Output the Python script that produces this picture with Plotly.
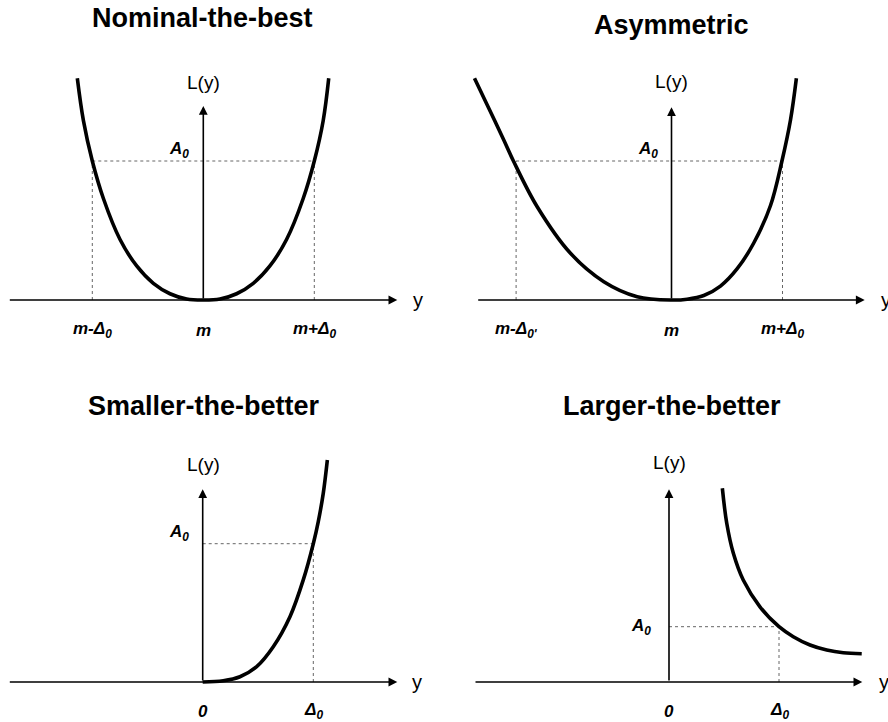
import plotly.graph_objects as go

W, H = 888, 722

# ---------------- data (x in units of Δ0, L(y) in units of A0) ----------------
titles = ["Nominal-the-best", "Asymmetric", "Smaller-the-better", "Larger-the-better"]

nom_x = [-1.135, -1.08, -1.0, -0.90, -0.75, -0.60, -0.45, -0.30, -0.15, 0.0,
         0.15, 0.30, 0.45, 0.60, 0.75, 0.90, 1.0, 1.08, 1.13]
nom_y = [1.595, 1.29, 1.0, 0.73, 0.435, 0.245, 0.120, 0.045, 0.007, 0.0,
         0.007, 0.045, 0.120, 0.245, 0.435, 0.73, 1.0, 1.29, 1.595]

asym_x = [-1.775, -1.660, -1.511, -1.424, -1.210, -0.910, -0.610, -0.309, 0.0,
          0.141, 0.291, 0.441, 0.592, 0.741, 0.892, 0.995, 1.072, 1.125]
asym_y = [1.595, 1.403, 1.151, 1.0, 0.671, 0.336, 0.132, 0.024, 0.0,
          0.006, 0.032, 0.100, 0.225, 0.41, 0.68, 1.0, 1.295, 1.595]

smal_x = [0.0, 0.186, 0.337, 0.488, 0.638, 0.789, 0.910, 1.0, 1.045, 1.090, 1.127]
smal_y = [0.0, 0.009, 0.038, 0.111, 0.255, 0.472, 0.74, 1.0, 1.16, 1.364, 1.605]

larg_x = [0.485, 0.525, 0.585, 0.675, 0.827, 1.0, 1.130, 1.282, 1.434, 1.585, 1.752]
larg_y = [3.503, 2.870, 2.327, 1.844, 1.36, 1.0, 0.819, 0.669, 0.579, 0.530, 0.512]

nom_tick_vals = [-1.0, 0.0, 1.0]
nom_tick_text = ["m-Δ<sub>0</sub>", "m", "m+Δ<sub>0</sub>"]
asym_tick_vals = [-1.40, 0.0, 1.0]
asym_tick_text = ["m-Δ<sub>0'</sub>", "m", "m+Δ<sub>0</sub>"]
one_tick_vals = [0.0, 1.0]
one_tick_text = ["0", "Δ<sub>0</sub>"]

# dotted guide lines (A0 level and Δ positions)
nom_guides = dict(h=(-1.0, 1.0), v=[-1.0, 1.0])
asym_guides = dict(h=(-1.40, 1.0), v=[-1.40, 1.0])
smal_guides = dict(h=(0.0, 1.0), v=[1.0])
larg_guides = dict(h=(0.0, 1.0), v=[1.0])

# ---------------- panel geometry (pixels) ----------------
panels = [
    dict(ox=203.3, oy=300, ux=111, uy=139, q=(0, 444, 0, 361),
         xa=(8.3, 397.3), ytip=106, ylab=(418, 300), Llab=(203.3, 82.7),
         Alab=(179, 150), tick_py=330, title=(202.3, 18.3),
         cx=nom_x, cy=nom_y, tv=nom_tick_vals, tt=nom_tick_text, g=nom_guides),
    dict(ox=671.5, oy=300, ux=111, uy=139, q=(444, 888, 0, 361),
         xa=(476.7, 864.7), ytip=107.3, ylab=(886, 300), Llab=(671.7, 81.7),
         Alab=(648, 150), tick_py=330, title=(671.7, 25),
         cx=asym_x, cy=asym_y, tv=asym_tick_vals, tt=asym_tick_text, g=asym_guides),
    dict(ox=202.7, oy=682, ux=110.6, uy=138.3, q=(0, 444, 361, 722),
         xa=(8.3, 397.3), ytip=489.3, ylab=(417, 682), Llab=(203, 464.3),
         Alab=(179, 532.7), tick_py=711, title=(204, 406),
         cx=smal_x, cy=smal_y, tv=one_tick_vals, tt=one_tick_text, g=smal_guides),
    dict(ox=669, oy=682, ux=110, uy=55.3, q=(444, 888, 361, 722),
         xa=(474, 862.3), ytip=489.3, ylab=(884, 682), Llab=(669, 462.7),
         Alab=(640.7, 626.7), tick_py=711, title=(671.7, 406),
         cx=larg_x, cy=larg_y, tv=one_tick_vals, tt=one_tick_text, g=larg_guides),
]

FONT = "Liberation Sans, Arial, Helvetica, sans-serif"
fig = go.Figure()
annotations = []
layout = {}

for i, p in enumerate(panels):
    n = "" if i == 0 else str(i + 1)
    xr, yr = "x" + n, "y" + n
    ox, oy, ux, uy = p["ox"], p["oy"], p["ux"], p["uy"]
    qx0, qx1, qy0, qy1 = p["q"]
    X = lambda px: (px - ox) / ux
    Y = lambda py: (oy - py) / uy

    layout["xaxis" + n] = dict(domain=[qx0 / W, qx1 / W], range=[X(qx0), X(qx1)],
                               visible=False, fixedrange=True, anchor=yr)
    layout["yaxis" + n] = dict(domain=[1 - qy1 / H, 1 - qy0 / H], range=[Y(qy1), Y(qy0)],
                               visible=False, fixedrange=True, anchor=xr)

    g = p["g"]
    fig.add_trace(go.Scatter(x=[g["h"][0], g["h"][1]], y=[1.0, 1.0], mode="lines",
                             line=dict(color="#666666", width=1, dash="dot"),
                             xaxis=xr, yaxis=yr, hoverinfo="skip"))
    for vx in g["v"]:
        fig.add_trace(go.Scatter(x=[vx, vx], y=[0.0, 1.0], mode="lines",
                                 line=dict(color="#666666", width=1, dash="dot"),
                                 xaxis=xr, yaxis=yr, hoverinfo="skip"))
    fig.add_trace(go.Scatter(x=p["cx"], y=p["cy"], mode="lines",
                             line=dict(color="black", width=3.6, shape="spline", smoothing=1.0),
                             xaxis=xr, yaxis=yr, hoverinfo="skip"))

    annotations.append(dict(x=X(p["xa"][1]), y=0, ax=X(p["xa"][0]), ay=0,
                            xref=xr, yref=yr, axref=xr, ayref=yr, text="",
                            showarrow=True, arrowhead=2, arrowsize=1.1, arrowwidth=1.6,
                            arrowcolor="black", standoff=0, startstandoff=0))
    annotations.append(dict(x=0, y=Y(p["ytip"]), ax=0, ay=0,
                            xref=xr, yref=yr, axref=xr, ayref=yr, text="",
                            showarrow=True, arrowhead=2, arrowsize=1.1, arrowwidth=1.6,
                            arrowcolor="black", standoff=0, startstandoff=0))

    def txt(px, py, s, size, bold=False, italic=False):
        t = s
        if italic:
            t = "<i>" + t + "</i>"
        if bold:
            t = "<b>" + t + "</b>"
        annotations.append(dict(x=X(px), y=Y(py), xref=xr, yref=yr, text=t,
                                showarrow=False, xanchor="center", yanchor="middle",
                                font=dict(family=FONT, size=size, color="black")))

    txt(p["title"][0], p["title"][1], titles[i], 27, bold=True)
    txt(p["Llab"][0], p["Llab"][1], "L(y)", 19)
    txt(p["ylab"][0], p["ylab"][1], "y", 20)
    txt(p["Alab"][0], p["Alab"][1], "A<sub>0</sub>", 17, bold=True, italic=True)
    for tv, tt in zip(p["tv"], p["tt"]):
        txt(ox + tv * ux, p["tick_py"], tt, 17, bold=True, italic=True)

fig.update_layout(width=W, height=H, margin=dict(l=0, r=0, t=0, b=0),
                  paper_bgcolor="white", plot_bgcolor="white", showlegend=False,
                  annotations=annotations, **layout)
fig.write_html("out.html",
               config={"displayModeBar": False, "staticPlot": True},
               post_script="document.body.style.margin='0px';"
                           "document.body.style.padding='0px';"
                           "document.documentElement.style.overflow='hidden';")
